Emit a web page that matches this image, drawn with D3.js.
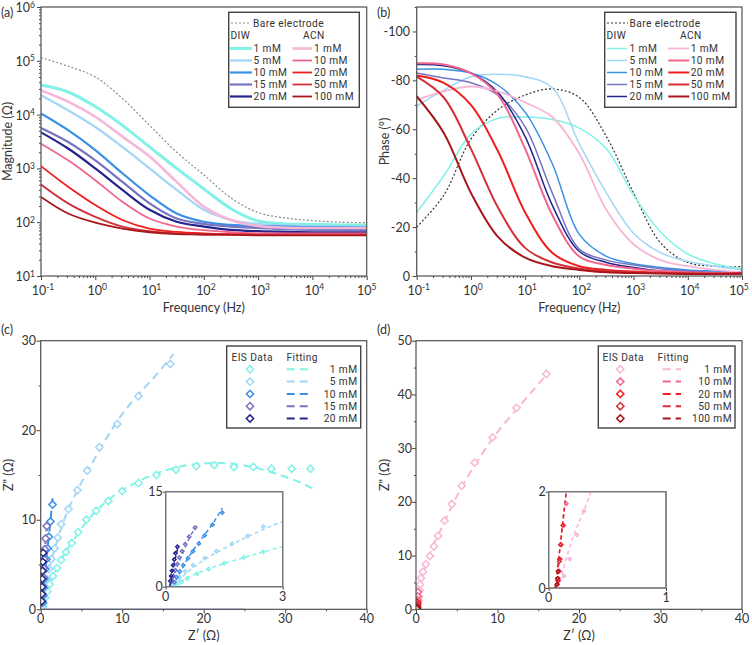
<!DOCTYPE html>
<html><head><meta charset="utf-8">
<script src="https://cdn.jsdelivr.net/npm/d3@7"></script>
<style>
body{margin:0;background:#fff}
svg{display:block}
text{font-family:Lato,"Open Sans",sans-serif;fill:#333}
text.leg{font-family:Roboto,"Liberation Sans",sans-serif;letter-spacing:0.4px}
</style>
</head><body>
<svg id="chart" width="752" height="645"></svg>
<script>
// ================= DATA =================
const freqHz = [0.1, 0.316, 1, 3.16, 10, 31.6, 100, 316, 1000, 3160, 10000, 31600, 100000];
const concDIW = ["1 mM", "5 mM", "10 mM", "15 mM", "20 mM"];
const concACN = ["1 mM", "10 mM", "20 mM", "50 mM", "100 mM"];

// |Z| (Ohm) at freqHz
const magBare   = [114800, 79400, 50100, 19950, 6310, 1995, 759, 282, 151, 120, 107, 100, 98];
const magDIW1   = [35500, 26300, 14100, 6310, 2510, 1000, 417, 178, 105, 93, 91, 89, 89];
const magDIW5   = [22900, 12000, 5890, 2510, 1000, 398, 170, 110, 93, 87, 85, 83, 83];
const magDIW10  = [10500, 5130, 2190, 813, 316, 145, 102, 89, 85, 83, 81, 81, 79];
const magDIW15  = [5620, 3090, 1410, 562, 224, 117, 93, 83, 78, 74, 72, 72, 72];
const magDIW20  = [4680, 2340, 1000, 398, 170, 102, 83, 72, 68, 66, 65, 65, 65];
const magACN1   = [28200, 17400, 9120, 3890, 1660, 562, 195, 110, 85, 79, 78, 78, 78];
const magACN10  = [2880, 1410, 603, 240, 117, 83, 71, 65, 62, 62, 62, 62, 62];
const magACN20  = [1100, 457, 209, 110, 76, 66, 62, 60, 59, 59, 59, 59, 59];
const magACN50  = [501, 224, 126, 83, 68, 62, 59, 59, 58, 58, 58, 58, 58];
const magACN100 = [295, 145, 98, 76, 65, 60, 59, 58, 57, 57, 57, 57, 57];

// Phase (deg) at freqHz
const phBare   = [-20, -33, -56, -68, -74, -76.5, -73, -57, -34, -13.5, -5.5, -4, -3.8];
const phDIW1   = [-26, -41, -58, -64.5, -65, -64, -60.5, -52, -33, -18, -9, -5, -3];
const phDIW5   = [-69.5, -76, -81.5, -82.5, -81.5, -77, -54, -34, -17.5, -9.5, -6, -4, -2.5];
const phDIW10  = [-84.5, -84.5, -83, -78, -67, -46, -17, -8, -5, -3.5, -2.5, -2, -1.5];
const phDIW15  = [-83, -81, -79, -74, -61, -34, -11, -6.5, -4.5, -3, -2, -1.5, -1.2];
const phDIW20  = [-86.5, -86, -83, -75, -57, -29, -10, -5.5, -3.5, -2, -1.5, -1, -1];
const phACN1   = [-72, -75.5, -77.5, -75.5, -71, -65, -50, -27, -13, -6.5, -4, -2.5, -1.5];
const phACN10  = [-87, -86.5, -83, -74, -52, -25, -8, -4.5, -3, -2, -1.5, -1.2, -1.2];
const phACN20  = [-82, -79, -70, -51, -26, -9.5, -4, -2.5, -1.8, -1.3, -1, -0.8, -1];
const phACN50  = [-81.5, -73, -52, -28, -11.5, -5.5, -3, -2, -1.5, -1.2, -1, -1, -1];
const phACN100 = [-73.5, -58.5, -34, -16, -7.5, -4, -2.5, -1.5, -1.2, -1, -0.8, -0.8, -1];

// Nyquist EIS data [Z', Z''] (Ohm)
const nyqDIW1 = [[33.1,15.7],[30.8,15.7],[28.3,15.7],[26.1,15.9],[23.7,15.9],[21.3,16.1],[19.1,16.0],[16.6,15.6],[14.2,15.0],[12.0,14.1],[10.0,13.2],[8.3,12.1],[6.8,11.0],[5.6,10.0],[4.6,8.6],[3.8,7.4],[3.1,6.4],[2.5,5.5],[2.0,4.6],[1.5,3.7],[1.1,2.8],[0.8,2.0],[0.55,1.3],[0.4,0.7],[0.3,0.3]];
const nyqDIW5 = [[15.9,27.4],[12.0,23.8],[9.4,20.7],[7.2,18.1],[5.7,15.5],[4.5,13.3],[3.4,11.2],[2.5,9.5],[2.1,8.0],[1.7,6.8],[1.3,5.6],[1.0,4.5],[0.7,3.4],[0.5,2.4],[0.35,1.5],[0.25,0.8],[0.2,0.3]];
const nyqDIW10 = [[1.45,11.7],[1.2,9.8],[1.0,8.1],[0.85,6.8],[0.7,5.6],[0.57,4.5],[0.45,3.4],[0.36,2.4],[0.28,1.5],[0.22,0.7]];
const nyqDIW15 = [[0.75,9.3],[0.6,7.9],[0.5,6.7],[0.42,5.6],[0.35,4.6],[0.3,3.6],[0.25,2.6],[0.2,1.7],[0.17,0.9]];
const nyqDIW20 = [[0.3,6.3],[0.25,5.3],[0.22,4.3],[0.19,3.4],[0.16,2.5],[0.14,1.7],[0.12,0.9]];
// Nyquist fitting [Z', Z'']
const fitDIW1 = [[0.25,0],[0.5,1.2],[1,2.6],[2,4.6],[3,6.3],[4,7.7],[6,10.2],[8,12],[10,13.3],[12,14.3],[14,15.1],[16,15.7],[18,16.1],[20,16.3],[22,16.35],[24,16.2],[26,15.9],[28,15.4],[30,14.8],[32,14.1],[33.8,13.3]];
const fitDIW5 = [[0.2,0],[0.5,2],[1,4.3],[2,7.6],[3,10.3],[4.5,13.3],[6,15.8],[8,19],[10,21.8],[12,24],[14,26],[16.3,28.5]];
const fitDIW10 = [[0.18,0],[0.3,1.5],[0.6,4.8],[0.9,7.4],[1.2,9.9],[1.45,12.4]];
const fitDIW15 = [[0.12,0],[0.25,2.5],[0.45,5.5],[0.65,8.2],[0.8,9.6]];
const fitDIW20 = [[0.1,0],[0.2,3.2],[0.32,6.4]];
const baseDIW = [[0,0],[25,0]];

const nyqACN1 = [[16.0,43.8],[12.35,37.5],[9.4,32.0],[7.2,27.3],[5.6,23.0],[4.4,19.6],[3.5,16.5],[2.7,13.7],[2.2,11.7],[1.7,9.9],[1.2,8.4],[0.85,7.0],[0.62,5.8],[0.5,4.6],[0.43,3.5],[0.36,2.4],[0.3,1.6],[0.24,1.1],[0.18,0.6],[0.13,0.25]];
const nyqACN10 = [[0.22,3.2],[0.18,2.4],[0.15,1.75],[0.13,1.3],[0.11,0.9],[0.1,0.6],[0.09,0.35],[0.085,0.15]];
const nyqACN20 = [[0.12,1.3],[0.1,0.9],[0.09,0.6],[0.085,0.35],[0.08,0.15]];
const nyqACN50 = [[0.09,0.55],[0.085,0.35],[0.08,0.2],[0.075,0.08]];
const nyqACN100 = [[0.08,0.35],[0.075,0.2],[0.07,0.08]];
const fitACN1 = [[0.08,0],[0.2,1.0],[0.36,2.0],[0.5,3.3],[0.7,5],[1,7.3],[2,11.5],[3,14.7],[4.5,19.5],[6,23.8],[8,28.7],[10,33],[12.5,37.5],[14.5,41],[16.2,44]];
const fitACN10 = [[0.05,0],[0.1,0.9],[0.15,2],[0.2,3.2]];
const fitACN20 = [[0.06,0],[0.09,0.7],[0.13,1.6],[0.15,2.0]];
const fitACN50 = [[0.06,0],[0.09,0.6]];
const fitACN100 = [[0.06,0],[0.08,0.35]];

// ================= STYLE =================
const colDIW = ["#80f2e6", "#a2d6f6", "#3a90e6", "#7674c2", "#24248c"];
const colACN = ["#f8b6d6", "#f2668c", "#f01e1e", "#d4303a", "#a8161c"];
const magDIW = [magDIW1, magDIW5, magDIW10, magDIW15, magDIW20];
const magACN = [magACN1, magACN10, magACN20, magACN50, magACN100];
const phDIW = [phDIW1, phDIW5, phDIW10, phDIW15, phDIW20];
const phACN = [phACN1, phACN10, phACN20, phACN50, phACN100];
const nyqDIW = [nyqDIW1, nyqDIW5, nyqDIW10, nyqDIW15, nyqDIW20];
const fitDIW = [fitDIW1, fitDIW5, fitDIW10, fitDIW15, fitDIW20];
const nyqACN = [nyqACN1, nyqACN10, nyqACN20, nyqACN50, nyqACN100];
const fitACN = [fitACN1, fitACN10, fitACN20, fitACN50, fitACN100];

const svg = d3.select("#chart");
const frameCol = "#505050", tickCol = "#444";
const defs = svg.append("defs");
let clipId = 0;
function clip(x0, y0, x1, y1) {
  const id = "clip" + (clipId++);
  defs.append("clipPath").attr("id", id).append("rect").attr("x", x0).attr("y", y0).attr("width", x1 - x0).attr("height", y1 - y0);
  return "url(#" + id + ")";
}
function cleanAxis(sel) {
  sel.select(".domain").remove();
  sel.selectAll("line").attr("stroke", tickCol).attr("stroke-width", 1);
  sel.selectAll("text").remove();
}
function frame(x0, y0, x1, y1, col, fill) {
  svg.append("rect").attr("x", x0).attr("y", y0).attr("width", x1 - x0).attr("height", y1 - y0)
    .attr("fill", fill || "none").attr("stroke", col || frameCol).attr("stroke-width", 1.2);
}
function supText(x, y, base, exp, anchor, size) {
  const t = svg.append("text").attr("x", x).attr("y", y).attr("text-anchor", anchor).attr("font-size", size || 12.5);
  t.append("tspan").text(base);
  t.append("tspan").attr("dy", -4.5).attr("font-size", 8.5).text(exp);
  return t;
}
function txt(x, y, s, anchor, size) {
  return svg.append("text").attr("x", x).attr("y", y).attr("text-anchor", anchor || "start").attr("font-size", size || 12.5).text(s);
}
const LF = 10.2;
function leg(x, y, s, anchor) { return txt(x, y, s, anchor, LF).attr("class", "leg"); }
const logMinor = (a, b) => { const r = []; for (let k = a; k < b; k++) for (let m = 2; m <= 9; m++) r.push(m * Math.pow(10, k)); return r; };
const logMajor = (a, b) => d3.range(a, b + 1).map(k => Math.pow(10, k));
const XLAB_Y = 294.5, XTITLE_Y = 311.5;

// ================= PANEL A =================
const A = {x0: 41, x1: 366.7, y0: 7, y1: 276};
const xA = d3.scaleLog().domain([0.1, 1e5]).range([A.x0, A.x1]);
const yA = d3.scaleLog().domain([10, 1e6]).range([A.y1, A.y0]);
svg.append("g").attr("transform", `translate(0,${A.y1})`).call(d3.axisBottom(xA).tickValues(logMajor(-1, 5)).tickSize(4)).call(cleanAxis);
svg.append("g").attr("transform", `translate(0,${A.y1})`).call(d3.axisBottom(xA).tickValues(logMinor(-1, 5)).tickSize(2)).call(cleanAxis);
svg.append("g").attr("transform", `translate(${A.x0},0)`).call(d3.axisLeft(yA).tickValues(logMajor(1, 6)).tickSize(4)).call(cleanAxis);
svg.append("g").attr("transform", `translate(${A.x0},0)`).call(d3.axisLeft(yA).tickValues(logMinor(1, 6)).tickSize(2)).call(cleanAxis);
d3.range(-1, 6).forEach(k => supText(xA(Math.pow(10, k)) + (k === 5 ? 0 : 2), XLAB_Y, "10", String(k), "middle"));
d3.range(1, 7).forEach(k => supText(35, yA(Math.pow(10, k)) + 5, "10", String(k), "end"));
txt((A.x0 + A.x1) / 2, XTITLE_Y, "Frequency (Hz)", "middle");
txt(0, 0, "Magnitude (Ω)", "middle").attr("transform", `translate(12,${(A.y0 + A.y1) / 2}) rotate(-90)`);
txt(1, 17, "(a)", "start");
const gA = svg.append("g").attr("clip-path", clip(A.x0, A.y0, A.x1, A.y1));
const lineA = d3.line().x((d, i) => xA(freqHz[i])).y(d => yA(d)).curve(d3.curveCatmullRom.alpha(0.5));
gA.append("path").attr("d", lineA(magBare)).attr("fill", "none").attr("stroke", "#8a8a8a").attr("stroke-width", 1.2).attr("stroke-dasharray", "2,2");
magDIW.forEach((s, i) => gA.append("path").attr("d", lineA(s)).attr("fill", "none").attr("stroke", colDIW[i]).attr("stroke-width", i === 0 ? 3 : 2.2));
magACN.forEach((s, i) => gA.append("path").attr("d", lineA(s)).attr("fill", "none").attr("stroke", colACN[i]).attr("stroke-width", i === 0 ? 2.6 : 1.8));
frame(A.x0, A.y0, A.x1, A.y1);

// ================= PANEL B =================
const B = {x0: 416.7, x1: 742, y0: 7, y1: 276};
const xB = d3.scaleLog().domain([0.1, 1e5]).range([B.x0, B.x1]);
const yB = d3.scaleLinear().domain([0, -110]).range([B.y1, B.y0]);
svg.append("g").attr("transform", `translate(0,${B.y1})`).call(d3.axisBottom(xB).tickValues(logMajor(-1, 5)).tickSize(4)).call(cleanAxis);
svg.append("g").attr("transform", `translate(0,${B.y1})`).call(d3.axisBottom(xB).tickValues(logMinor(-1, 5)).tickSize(2)).call(cleanAxis);
svg.append("g").attr("transform", `translate(${B.x0},0)`).call(d3.axisLeft(yB).tickValues([0, -20, -40, -60, -80, -100]).tickSize(4)).call(cleanAxis);
svg.append("g").attr("transform", `translate(${B.x0},0)`).call(d3.axisLeft(yB).tickValues([-10, -30, -50, -70, -90, -110]).tickSize(2)).call(cleanAxis);
d3.range(-1, 6).forEach(k => supText(xB(Math.pow(10, k)) + (k === 5 ? -3 : 2), XLAB_Y, "10", String(k), "middle"));
[0, -20, -40, -60, -80, -100].forEach(v => txt(410, yB(v) + 4.5, String(v), "end"));
txt((B.x0 + B.x1) / 2, XTITLE_Y, "Frequency (Hz)", "middle");
txt(0, 0, "Phase (°)", "middle").attr("transform", `translate(389,${(B.y0 + B.y1) / 2}) rotate(-90)`);
txt(377, 17, "(b)", "start");
const gB = svg.append("g").attr("clip-path", clip(B.x0, B.y0, B.x1, B.y1));
const lineB = d3.line().x((d, i) => xB(freqHz[i])).y(d => yB(d)).curve(d3.curveCatmullRom.alpha(0.5));
gB.append("path").attr("d", lineB(phBare)).attr("fill", "none").attr("stroke", "#333").attr("stroke-width", 1.2).attr("stroke-dasharray", "2,2");
phDIW.forEach((s, i) => gB.append("path").attr("d", lineB(s)).attr("fill", "none").attr("stroke", colDIW[i]).attr("stroke-width", 1.5));
phACN.forEach((s, i) => gB.append("path").attr("d", lineB(s)).attr("fill", "none").attr("stroke", colACN[i]).attr("stroke-width", i === 0 ? 1.8 : 2));
frame(B.x0, B.y0, B.x1, B.y1);

// ---- legends A & B ----
function legendAB(bx0, by0, bx1, by1, bareCol, bareX0, bareX1, bareTx, diwX, acnX, dl0, dl1, dTx, al0, al1, aTx, wDIW, wACN) {
  svg.append("rect").attr("x", bx0).attr("y", by0).attr("width", bx1 - bx0).attr("height", by1 - by0).attr("fill", "#fff").attr("stroke", "#444").attr("stroke-width", 1.4);
  svg.append("line").attr("x1", bareX0).attr("x2", bareX1).attr("y1", 23).attr("y2", 23).attr("stroke", bareCol).attr("stroke-width", 1.2).attr("stroke-dasharray", "2,2");
  leg(bareTx, 26.8, "Bare electrode");
  leg(diwX, 38.8, "DIW");
  leg(acnX, 38.8, "ACN");
  const rows = [48.5, 60.5, 72.5, 84.5, 96.5];
  concDIW.forEach((c, i) => {
    svg.append("line").attr("x1", dl0).attr("x2", dl1).attr("y1", rows[i]).attr("y2", rows[i]).attr("stroke", colDIW[i]).attr("stroke-width", wDIW[i]);
    leg(dTx, rows[i] + 3.8, c);
  });
  concACN.forEach((c, i) => {
    svg.append("line").attr("x1", al0).attr("x2", al1).attr("y1", rows[i]).attr("y2", rows[i]).attr("stroke", colACN[i]).attr("stroke-width", wACN[i]);
    leg(aTx, rows[i] + 3.8, c);
  });
}
legendAB(228.7, 12.3, 359.3, 107.3, "#8a8a8a", 231, 250, 253, 230.5, 303, 230, 252, 253.5, 292.5, 312, 314,
  [3, 2.2, 2.2, 2.2, 2.2], [2.6, 1.8, 1.8, 1.8, 1.8]);
legendAB(604.7, 12.3, 736, 107.3, "#333", 607, 628, 629.5, 606.5, 680, 607, 627, 629.5, 668.3, 689.3, 690.7,
  [1.5, 1.5, 1.5, 1.5, 1.5], [1.8, 2, 2, 2, 2]);

// ================= PANELS C & D =================
const diamond = (s) => d3.symbol().type(d3.symbolDiamond2).size(s)();
function nyquistPanel(P, xMax, yMax, yTicks, yMinor, xLabX, yTitleX, lbl, lblX, inset, nyq, fit, cols, baseLine, legend) {
  const x = d3.scaleLinear().domain([0, xMax]).range([P.x0, P.x1]);
  const y = d3.scaleLinear().domain([0, yMax]).range([P.y1, P.y0]);
  svg.append("g").attr("transform", `translate(0,${P.y1})`).call(d3.axisBottom(x).tickValues([0, 10, 20, 30, 40]).tickSize(4)).call(cleanAxis);
  svg.append("g").attr("transform", `translate(0,${P.y1})`).call(d3.axisBottom(x).tickValues([5, 15, 25, 35]).tickSize(2)).call(cleanAxis);
  svg.append("g").attr("transform", `translate(${P.x0},0)`).call(d3.axisLeft(y).tickValues(yTicks).tickSize(4)).call(cleanAxis);
  svg.append("g").attr("transform", `translate(${P.x0},0)`).call(d3.axisLeft(y).tickValues(yMinor).tickSize(2)).call(cleanAxis);
  [0, 10, 20, 30, 40].forEach(v => txt(x(v), 623, String(v), "middle"));
  yTicks.forEach(v => txt(xLabX, y(v) + 4.5, String(v), "end"));
  txt((P.x0 + P.x1) / 2, 640, "Z′  (Ω)", "middle");
  txt(0, 0, "Z\" (Ω)", "middle").attr("transform", `translate(${yTitleX},${(P.y0 + P.y1) / 2}) rotate(-90)`);
  txt(lblX, 334, lbl, "start");
  const g = svg.append("g").attr("clip-path", clip(P.x0, P.y0, P.x1, P.y1));
  function drawSeries(g, x, y, sz, lw, dash) {
    const line = d3.line().x(d => x(d[0])).y(d => y(d[1])).curve(d3.curveCatmullRom.alpha(0.5));
    if (baseLine) g.append("path").attr("d", line(baseLine)).attr("fill", "none").attr("stroke", "#5a5ad2").attr("stroke-width", 1.3);
    fit.forEach((s, i) => g.append("path").attr("d", line(s)).attr("fill", "none").attr("stroke", cols[i]).attr("stroke-width", lw).attr("stroke-dasharray", dash));
    nyq.forEach((s, i) => g.selectAll(null).data(s).enter().append("path")
      .attr("d", diamond(sz)).attr("transform", d => `translate(${x(d[0])},${y(d[1])})`)
      .attr("fill", "#fff").attr("stroke", cols[i]).attr("stroke-width", 1.5));
  }
  drawSeries(g, x, y, 34, 2, "8,5");
  frame(P.x0, P.y0, P.x1, P.y1);
  // inset
  const I = inset;
  frame(I.x0, I.y0, I.x1, I.y1, "#777", "#fff");
  const xi = d3.scaleLinear().domain([0, I.xMax]).range([I.x0, I.x1]);
  const yi = d3.scaleLinear().domain([0, I.yMax]).range([I.y1, I.y0]);
  svg.append("g").attr("transform", `translate(0,${I.y1})`).call(d3.axisBottom(xi).tickValues([0, I.xMax]).tickSize(3)).call(cleanAxis);
  svg.append("g").attr("transform", `translate(${I.x0},0)`).call(d3.axisLeft(yi).tickValues([0, I.yMax]).tickSize(3)).call(cleanAxis);
  txt(I.x0, I.y1 + 14, "0", "middle");
  txt(I.x1, I.y1 + 14, String(I.xMax), "middle");
  txt(I.x0 - 3, I.y1 + 4.5, "0", "end");
  txt(I.x0 - 3, I.y0 + 4.5, String(I.yMax), "end");
  const gi = svg.append("g").attr("clip-path", clip(I.x0, I.y0, I.x1, I.y1));
  drawSeries(gi, xi, yi, 7, 1.5, "4,3");
  frame(I.x0, I.y0, I.x1, I.y1, "#777");
  // legend
  const L = legend;
  svg.append("rect").attr("x", L.x0).attr("y", L.y0).attr("width", L.x1 - L.x0).attr("height", L.y1 - L.y0).attr("fill", "#fff").attr("stroke", "#444").attr("stroke-width", 1.4);
  leg(L.hx1, 360.5, "EIS Data");
  leg(L.hx2, 360.5, "Fitting");
  const rows = [369.3, 381.6, 393.9, 406.2, 418.5];
  L.labels.forEach((c, i) => {
    svg.append("path").attr("d", diamond(34)).attr("transform", `translate(${L.dx},${rows[i]})`).attr("fill", "#fff").attr("stroke", cols[i]).attr("stroke-width", 1.5);
    svg.append("line").attr("x1", L.l0).attr("x2", L.l1).attr("y1", rows[i]).attr("y2", rows[i]).attr("stroke", cols[i]).attr("stroke-width", 2).attr("stroke-dasharray", "8,5");
    leg(L.tx, rows[i] + 3.8, c, "end");
  });
}
nyquistPanel({x0: 40.7, x1: 366.7, y0: 340.7, y1: 609.3}, 40, 30, [0, 10, 20, 30], [5, 15, 25], 36, 13, "(c)", 1,
  {x0: 165.7, x1: 282.7, y0: 491.7, y1: 586.7, xMax: 3, yMax: 15},
  nyqDIW, fitDIW, colDIW, baseDIW,
  {x0: 226.7, x1: 360.7, y0: 346, y1: 428, hx1: 231.5, hx2: 286.5, dx: 250, l0: 286.7, l1: 310, tx: 357.5, labels: concDIW});
nyquistPanel({x0: 416, x1: 742, y0: 340.7, y1: 609.3}, 40, 50, [0, 10, 20, 30, 40, 50], [5, 15, 25, 35, 45], 412, 389, "(d)", 377,
  {x0: 548.7, x1: 666, y0: 491.7, y1: 588, xMax: 1, yMax: 2},
  nyqACN, fitACN, colACN, null,
  {x0: 598.3, x1: 735, y0: 346, y1: 428, hx1: 602.5, hx2: 657.5, dx: 620.3, l0: 662.7, l1: 681, tx: 732, labels: concACN});
</script>
</body></html>
